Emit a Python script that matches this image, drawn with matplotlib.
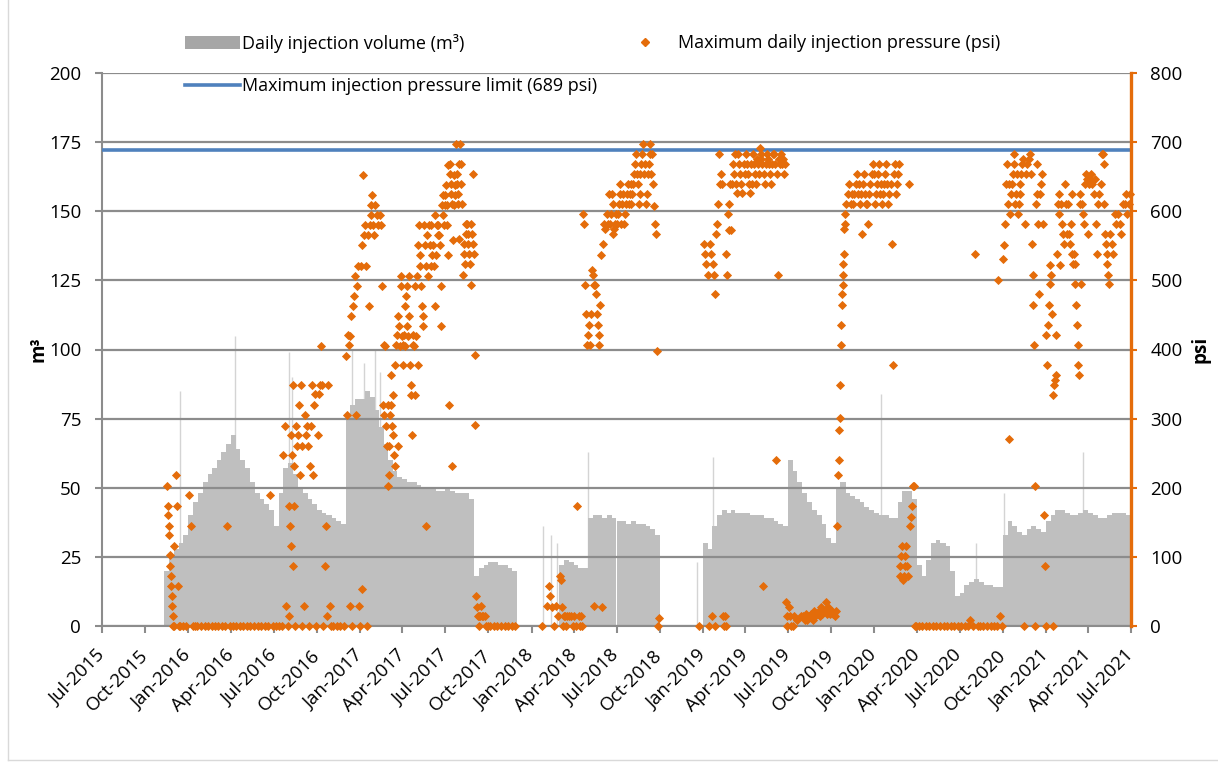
import matplotlib
matplotlib.use('Agg')
import matplotlib.pyplot as plt
import matplotlib.dates as mdates
from matplotlib.lines import Line2D
from matplotlib.patches import Patch
import pandas as pd

plt.rcParams['font.family'] = ['Open Sans', 'DejaVu Sans']
plt.rcParams['font.size'] = 13.5

# daily injection volume (m3), read as one value per 10-day period (1st, 11th, 21st)
vol_2015 = [0, 0, 0, 0, 0, 0, 0, 0, 0, 0, 0, 0, 0, 20, 25, 28, 30, 33]  # Jul-Dec
vol_2016 = [40, 45, 48, 52, 55, 57, 60, 63, 66, 69, 64, 60, 57, 52, 48, 46, 44, 42,
            36, 48, 57, 59, 55, 50, 48, 46, 44, 42, 41, 40, 39, 38, 37, 75, 80, 82]
vol_2017 = [82, 85, 83, 78, 72, 66, 60, 56, 54, 53, 52, 52, 51, 50, 50, 50, 49, 49,
            50, 49, 48, 48, 48, 46, 18, 21, 22, 23, 23, 22, 22, 21, 20, 0, 0, 0]
vol_2018 = [0, 0, 0, 0, 0, 0, 22, 24, 23, 22, 21, 21, 39, 40, 40, 39, 40, 39,
            38, 38, 37, 38, 37, 37, 36, 35, 33, 0, 0, 0, 0, 0, 0, 0, 0, 0]
vol_2019 = [30, 28, 36, 40, 42, 41, 42, 41, 41, 41, 40, 40, 40, 39, 39, 38, 37, 36,
            60, 56, 52, 48, 45, 42, 40, 37, 32, 30, 50, 52, 48, 47, 46, 45, 43, 42]
vol_2020 = [41, 40, 40, 39, 39, 45, 49, 49, 46, 22, 18, 24, 30, 31, 30, 29, 20, 11,
            12, 15, 16, 17, 16, 15, 15, 14, 14, 33, 38, 36, 34, 33, 35, 36, 35, 34]
vol_2021 = [38, 40, 42, 42, 41, 40, 40, 41, 42, 41, 40, 39, 39, 40, 41, 41, 41, 40]  # Jan-Jun

# single days that stick out above the volume envelope
spike_dates = ['2015-12-14', '2016-04-09', '2016-08-03', '2016-08-09', '2016-12-15',
               '2017-01-10', '2017-02-02', '2017-02-12', '2018-01-26', '2018-02-12',
               '2018-02-24', '2018-05-01', '2018-12-20', '2019-01-23', '2020-01-16',
               '2020-08-05', '2020-10-03', '2021-03-21']
spike_vals = [85, 105, 99, 90, 100, 95, 100, 92, 36, 33, 30, 63, 23, 61, 84, 30, 48, 63]

# maximum daily injection pressure (psi), readings grouped by half month
psi_2015 = [('11-16', [203, 174, 160, 145, 131, 102, 87, 73, 58, 44, 29, 15, 0, 0]),
            ('12-01', [116, 218, 174, 58, 0, 0]),
            ('12-16', [0, 0])]
psi_2016 = [('01-01', [189, 145, 0, 0]), ('01-16', [0, 0]), ('02-01', [0, 0]),
            ('02-16', [0, 0]), ('03-01', [0, 0]), ('03-16', [0, 145, 0]),
            ('04-01', [0, 0]), ('04-16', [0, 0]), ('05-01', [0, 0]), ('05-16', [0, 0]),
            ('06-01', [0, 0]), ('06-16', [0, 189, 0]), ('07-01', [0, 0]),
            ('07-16', [0, 247, 290, 29, 0]),
            ('08-01', [15, 174, 145, 116, 276, 247, 87, 348, 174, 232, 0]),
            ('08-16', [290, 261, 276, 319, 218, 348, 261, 0]),
            ('09-01', [29, 305, 276, 290, 261, 0]),
            ('09-16', [232, 290, 348, 218, 319, 335, 0]),
            ('10-01', [276, 335, 348, 405, 348, 0]),
            ('10-16', [87, 145, 15, 348, 29, 0]),
            ('11-01', [0, 0]), ('11-16', [0, 0]),
            ('12-01', [391, 305, 421, 406, 29, 420, 449, 0]),
            ('12-16', [463, 478, 507, 305, 492, 521, 29, 0])]
psi_2017 = [('01-01', [521, 53, 551, 653, 566, 580, 521, 0]),
            ('01-16', [566, 463, 580, 594, 609, 623, 580, 566]),
            ('02-01', [609, 594, 580, 594, 580]),
            ('02-16', [492, 319, 406, 305, 405, 290, 261, 319]),
            ('03-01', [203, 218, 261, 305, 363, 319, 290, 334, 276, 247, 232]),
            ('03-16', [377, 406, 421, 449, 261, 434, 405, 492, 507, 420]),
            ('04-01', [377, 406, 421, 405, 463, 478, 492, 434, 420, 507, 449]),
            ('04-16', [377, 348, 334, 276, 406, 421, 405, 492, 334, 420]),
            ('05-01', [507, 377, 551, 580, 536, 521, 492, 463, 449, 434]),
            ('05-16', [580, 551, 521, 145, 566, 507, 580, 551, 521]),
            ('06-01', [580, 536, 551, 521, 463, 594, 536, 580, 566]),
            ('06-16', [580, 566, 551, 492, 434, 609, 623, 594, 580, 609]),
            ('07-01', [623, 638, 609, 580, 536, 667, 319, 668, 654, 640, 625, 611]),
            ('07-16', [232, 559, 653, 609, 638, 623, 697, 654, 640, 611, 625, 668, 560]),
            ('08-01', [698, 668, 640, 611, 508, 552, 538, 523, 567, 582]),
            ('08-16', [582, 567, 552, 538, 523, 494, 582, 567, 654, 552, 538]),
            ('09-01', [392, 291, 43, 28, 14, 14, 0, 14, 29]),
            ('09-16', [14, 14, 14, 0, 0]),
            ('10-01', [0, 0]), ('10-16', [0, 0]), ('11-01', [0, 0]), ('11-16', [0, 0])]
psi_2018 = [('01-16', [0]),
            ('02-01', [29, 58, 43, 28]),
            ('02-16', [0, 29, 14]),
            ('03-01', [73, 66, 28, 0, 14, 14, 0]),
            ('03-16', [14, 14, 14, 0]),
            ('04-01', [14, 0, 173, 14, 0]),
            ('04-16', [14, 0, 596, 581, 494, 451, 407]),
            ('05-01', [421, 436, 407, 451, 515, 508, 494, 29]),
            ('05-16', [494, 480, 451, 436, 421, 407, 465, 537, 28]),
            ('06-01', [552, 582, 575, 596, 582, 625]),
            ('06-16', [582, 596, 625, 611, 567, 575, 582, 596]),
            ('07-01', [582, 596, 611, 625, 640, 582, 611, 625]),
            ('07-16', [582, 596, 611, 625, 640, 611, 625, 640]),
            ('08-01', [611, 625, 640, 654, 668, 683, 654, 640]),
            ('08-16', [611, 625, 654, 668, 683, 698, 654, 668]),
            ('09-01', [611, 625, 654, 668, 683, 698, 654, 683]),
            ('09-16', [640, 608, 582, 567, 398, 0, 12]),
            ('12-16', [0])]
psi_2019 = [('01-01', [553, 538, 523, 508, 0]),
            ('01-16', [553, 538, 15, 523, 508, 0, 480, 567, 582]),
            ('02-01', [611, 683, 640, 654, 640, 15, 0]),
            ('02-16', [15, 0, 538, 508, 596, 611, 573, 640]),
            ('03-01', [573, 640, 668, 654, 683, 640, 626]),
            ('03-16', [683, 668, 654, 640, 626, 668, 654]),
            ('04-01', [683, 668, 654, 640, 626, 668, 640]),
            ('04-16', [683, 668, 654, 640, 676, 668, 654]),
            ('05-01', [691, 683, 676, 668, 58, 654, 640, 668]),
            ('05-16', [683, 676, 668, 654, 640, 668, 683]),
            ('06-01', [683, 668, 240, 654, 508, 676, 668]),
            ('06-16', [683, 668, 676, 654, 668, 34, 15, 0]),
            ('07-01', [28, 14, 0, 0, 15]),
            ('07-16', [8, 15]),
            ('08-01', [15, 8, 18, 8, 15]),
            ('08-16', [15, 18, 8, 22, 15, 18]),
            ('09-01', [18, 22, 15, 28, 18, 22]),
            ('09-16', [22, 34, 18, 28, 22, 18]),
            ('10-01', [22, 18, 15, 22, 145]),
            ('10-16', [218, 240, 283, 301, 348, 407, 436, 465, 480, 493, 508, 523, 538,
                       574, 582, 596]),
            ('11-01', [611, 625, 640, 611, 625]),
            ('11-16', [611, 625, 640, 654, 625, 640]),
            ('12-01', [611, 625, 567, 640, 654, 625, 611]),
            ('12-16', [611, 582, 625, 640, 654, 668, 654])]
psi_2020 = [('01-01', [611, 625, 640, 654, 668, 625, 640]),
            ('01-16', [611, 625, 640, 654, 668, 640, 611]),
            ('02-01', [625, 640, 552, 378, 654, 668]),
            ('02-16', [625, 640, 654, 668, 72, 87, 101, 116]),
            ('03-01', [66, 72, 87, 101, 116, 87, 72, 640]),
            ('03-16', [145, 158, 173, 203, 203, 0, 0]),
            ('04-01', [0, 0]), ('04-16', [0, 0]), ('05-01', [0, 0]), ('05-16', [0, 0]),
            ('06-01', [0, 0]), ('06-16', [0, 0]), ('07-01', [0, 0]), ('07-16', [0, 8, 0]),
            ('08-01', [538, 0, 0]), ('08-16', [0, 0]), ('09-01', [0, 0]),
            ('09-16', [0, 501, 15, 0]),
            ('10-01', [531, 551, 582, 640, 668, 611, 271, 640]),
            ('10-16', [596, 625, 640, 654, 668, 683, 611, 625, 654]),
            ('11-01', [596, 611, 625, 640, 654, 668, 676, 0]),
            ('11-16', [582, 654, 668, 676, 683, 654]),
            ('12-01', [553, 508, 465, 407, 203, 0, 611, 625, 668, 582]),
            ('12-16', [480, 625, 640, 654, 582, 160, 87, 0])]
psi_2021 = [('01-01', [421, 377, 436, 465, 522, 495, 508, 451, 0]),
            ('01-16', [334, 348, 356, 363, 421, 538, 611, 596, 625, 522]),
            ('02-01', [611, 582, 567, 552, 640, 611, 567]),
            ('02-16', [611, 567, 552, 582, 625, 538, 523]),
            ('03-01', [538, 523, 495, 465, 436, 407, 377, 363, 611, 625]),
            ('03-16', [495, 611, 596, 582, 640, 654, 646, 567]),
            ('04-01', [640, 646, 654, 640, 625, 646]),
            ('04-16', [582, 538, 611, 625, 640, 683]),
            ('05-01', [683, 668, 611, 567, 552, 538, 523, 508, 495]),
            ('05-16', [567, 552, 538, 596, 582]),
            ('06-01', [596, 582, 567, 611]),
            ('06-16', [611, 625, 596, 611, 625])]

psi_limit = 689

GRAY = '#BFBFBF'
ORANGE = '#E46C0A'
BLUE = '#4F81BD'
AXGRAY = '#8C8C8C'


def dekad_starts(year, first_month, n):
    out = []
    y, m = year, first_month
    while len(out) < n:
        for d in (1, 11, 21):
            out.append(pd.Timestamp(y, m, d))
        m += 1
        if m > 12:
            y, m = y + 1, 1
    return out[:n]


# volume bars, one per 10-day period
starts, vols = [], []
for year, first_month, vals in [(2015, 7, vol_2015), (2016, 1, vol_2016), (2017, 1, vol_2017),
                                (2018, 1, vol_2018), (2019, 1, vol_2019), (2020, 1, vol_2020),
                                (2021, 1, vol_2021)]:
    starts += dekad_starts(year, first_month, len(vals))
    vols += vals
edges = mdates.date2num(starts + [pd.Timestamp(2021, 7, 1)])
bar_x = edges[:-1]
bar_w = edges[1:] - edges[:-1]

# pressure points, spread over their half month
px, py = [], []
for year, groups in [(2015, psi_2015), (2016, psi_2016), (2017, psi_2017), (2018, psi_2018),
                     (2019, psi_2019), (2020, psi_2020), (2021, psi_2021)]:
    for md, vals in groups:
        start = pd.Timestamp(f'{year}-{md}')
        if start.day == 1:
            end = start + pd.Timedelta(days=15)
        else:
            end = start + pd.offsets.MonthBegin(1)
        step = (end - start) / len(vals)
        for i, v in enumerate(vals):
            px.append(mdates.date2num(start + step * (i + 0.5)))
            py.append(v)

W, H = 1218, 767
fig = plt.figure(figsize=(W / 100, H / 100), dpi=100)
ax = fig.add_axes([102 / W, 1 - 626 / H, (1131 - 102) / W, (626 - 73) / H])
ax2 = ax.twinx()

ax.bar(bar_x, vols, width=bar_w, align='edge', color=GRAY, linewidth=0, zorder=1)
ax.vlines(mdates.date2num(pd.to_datetime(spike_dates)), 0, spike_vals,
          color='#D4D4D4', linewidth=1, zorder=0.9)

ax2.axhline(psi_limit, color=BLUE, linewidth=2.6, zorder=2)
ax2.plot(px, py, linestyle='none', marker='D', markersize=3.9, color=ORANGE,
         markeredgewidth=0.6, clip_on=False, zorder=3)

# axes
ax.set_xlim(mdates.date2num(pd.Timestamp(2015, 7, 1)), mdates.date2num(pd.Timestamp(2021, 7, 1)))
ax.set_ylim(0, 200)
ax.set_yticks(range(0, 201, 25))
ax2.set_ylim(0, 800)
ax2.set_yticks(range(0, 801, 100))

ax.xaxis.set_major_locator(mdates.MonthLocator(bymonth=[1, 4, 7, 10]))
ax.xaxis.set_major_formatter(mdates.DateFormatter('%b-%Y'))
ax.yaxis.grid(True, color=AXGRAY, linewidth=1.6)

for s in ['top', 'right']:
    ax.spines[s].set_visible(False)
for s in ['top', 'left', 'bottom']:
    ax2.spines[s].set_visible(False)
ax.spines['left'].set_color(AXGRAY)
ax.spines['left'].set_linewidth(1.5)
ax.spines['bottom'].set_color(AXGRAY)
ax.spines['bottom'].set_linewidth(1.5)
ax2.spines['right'].set_color(ORANGE)
ax2.spines['right'].set_linewidth(2.4)

ax.tick_params(axis='both', colors=AXGRAY, labelcolor='black', length=5, width=1.5)
ax.tick_params(axis='y', pad=10)
ax.tick_params(axis='x', pad=14)
ax2.tick_params(axis='y', colors=ORANGE, labelcolor='black', length=4, width=1.5, pad=10)
plt.setp(ax.get_xticklabels(), rotation=45, ha='right', va='center', rotation_mode='anchor')

ax.set_ylabel('m³', fontweight='bold')
ax.yaxis.set_label_coords(-0.052, 0.5)
ax2.set_ylabel('psi', fontweight='bold')
ax2.yaxis.set_label_coords(1.058, 0.5)

# legend
h_vol = Patch(facecolor='#A6A6A6', edgecolor='none')
h_lim = Line2D([], [], color=BLUE, linewidth=2.6)
h_psi = Line2D([], [], linestyle='none', marker='D', markersize=3.9, color=ORANGE)
fig.legend([h_vol, h_lim], ['Daily injection volume (m³)', 'Maximum injection pressure limit (689 psi)'],
           loc='upper left', bbox_to_anchor=(185 / W, 1 - 34 / H), frameon=False, fontsize=13,
           handlelength=3.05, handleheight=0.75, handletextpad=0.1, labelspacing=1.33,
           borderpad=0, borderaxespad=0)
fig.legend([h_psi], ['Maximum daily injection pressure (psi)'],
           loc='upper left', bbox_to_anchor=(627 / W, 1 - 34 / H), frameon=False, fontsize=13,
           handlelength=2.0, handletextpad=0.83, borderpad=0, borderaxespad=0)

# light chart border
fig.add_artist(Line2D([8 / W, 8 / W], [1 - 760 / H, 1], color='#D9D9D9', linewidth=1))
fig.add_artist(Line2D([8 / W, 1], [1 - 760 / H, 1 - 760 / H], color='#D9D9D9', linewidth=1))

fig.savefig('out.png', dpi=100)
